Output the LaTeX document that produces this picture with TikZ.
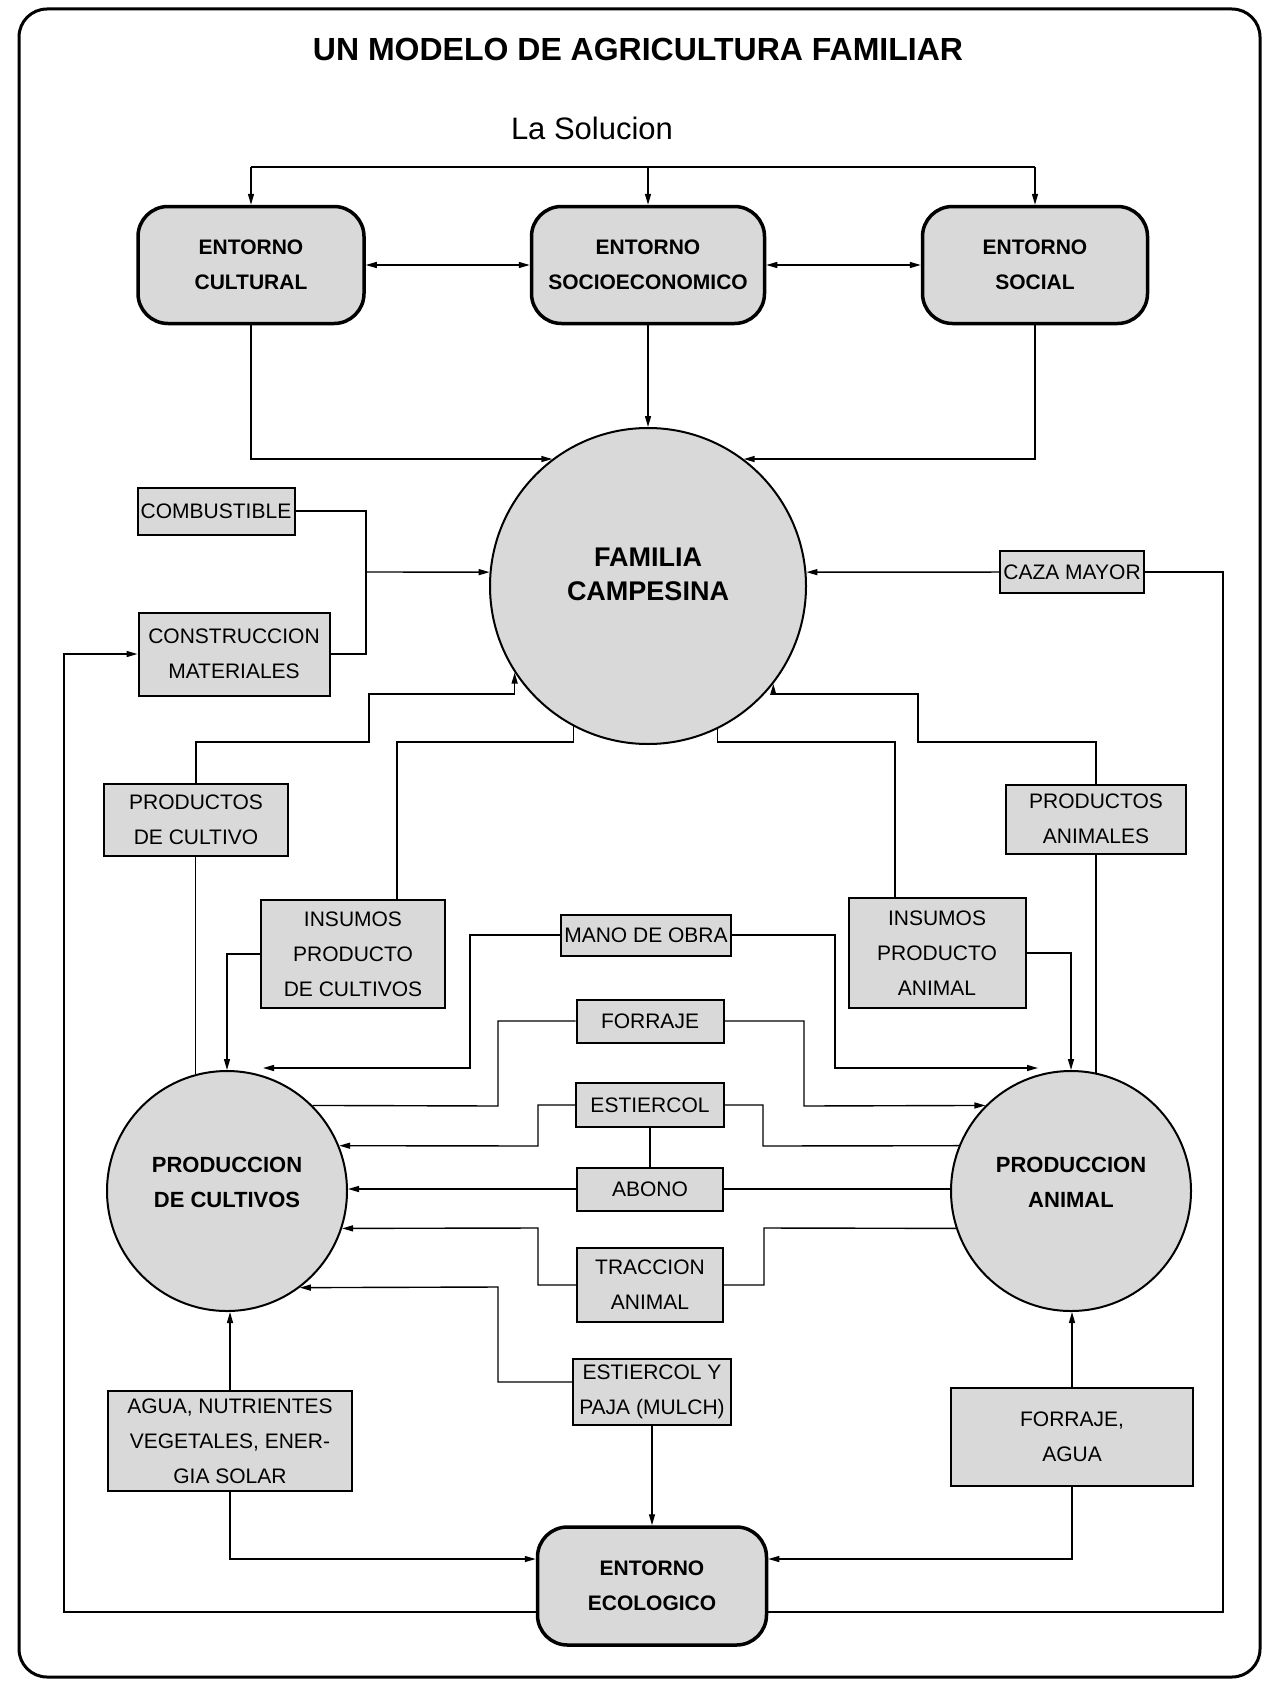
\documentclass[tikz,border=0pt]{standalone}
\usepackage{fontspec}
\setmainfont{Liberation Sans}
\definecolor{mygris}{rgb}{0.85,0.85,0.85}
\newcommand{\cajafont}{\fontsize{21pt}{35pt}\selectfont}
\newcommand{\entfont}{\fontsize{21pt}{35pt}\selectfont\bfseries}
\newcommand{\prodfont}{\fontsize{22pt}{35pt}\selectfont\bfseries}
\newcommand{\famfont}{\fontsize{27pt}{34pt}\selectfont\bfseries}
\newcommand{\titfont}{\fontsize{32pt}{36pt}\selectfont\bfseries}
\newcommand{\solfont}{\fontsize{31pt}{36pt}\selectfont}
\usetikzlibrary{arrows.meta}

\begin{document}
\begin{tikzpicture}[x=1pt,y=-1pt,line width=1.4pt,
        >={Triangle[length=11pt,width=6pt]},
        every node/.style={font=\cajafont},
        entorno/.style={draw,fill=mygris,line width=3.5pt,rounded corners=30pt,
            minimum height=117pt,align=center,font=\entfont},
        caja/.style={draw,fill=mygris,line width=2pt,align=center,inner sep=1pt},
        prod/.style={draw,circle,fill=mygris,line width=2pt,minimum size=240pt}
        ]
        \fill[white] (0,0) rectangle (1271,1686);
        \useasboundingbox (0,0) rectangle (1271,1686);
        \draw[line width=3pt,rounded corners=28pt] (19,9) rectangle (1260,1677);

        % the titles
        \node[font=\titfont,anchor=base] (titulo) at (638,61) {UN MODELO DE AGRICULTURA FAMILIAR};
        \node[font=\solfont,anchor=base] (solucion) at (592,139) {La Solucion};

        % the entornos
        \node[entorno,minimum width=226pt] (cultural) at (251,265) {ENTORNO\\CULTURAL};
        \node[entorno,minimum width=233pt] (socio) at (648,265) {ENTORNO\\SOCIOECONOMICO};
        \node[entorno,minimum width=225pt] (social) at (1035,265) {ENTORNO\\SOCIAL};
        \node[entorno,minimum width=229pt,minimum height=118pt] (ecologico) at (652,1586) {ENTORNO\\ECOLOGICO};

        % the circles
        \node[prod,minimum size=316pt,
            label={[font=\famfont,align=center,yshift=12pt]center:FAMILIA\\CAMPESINA}] (familia) at (648,586) {};
        \node[prod,label={[font=\prodfont,align=center,yshift=9pt]center:PRODUCCION\\DE CULTIVOS}] (cultivos) at (227,1191) {};
        \node[prod,label={[font=\prodfont,align=center,yshift=9pt]center:PRODUCCION\\ANIMAL}] (animal) at (1071,1191) {};

        % the boxes
        \node[caja,minimum width=157pt,minimum height=47pt] (combus) at (216,511) {COMBUSTIBLE};
        \node[caja,minimum width=191pt,minimum height=83pt] (constr) at (234,654) {CONSTRUCCION\\MATERIALES};
        \node[caja,minimum width=144pt,minimum height=42pt] (caza) at (1072,572) {CAZA MAYOR};
        \node[caja,minimum width=184pt,minimum height=72pt] (prodcult) at (196,820) {PRODUCTOS\\DE CULTIVO};
        \node[caja,minimum width=180pt,minimum height=69pt] (prodanim) at (1096,819) {PRODUCTOS\\ANIMALES};
        \node[caja,minimum width=184pt,minimum height=108pt] (insumcult) at (353,954) {INSUMOS\\PRODUCTO\\DE CULTIVOS};
        \node[caja,minimum width=177pt,minimum height=110pt] (insumanim) at (937,953) {INSUMOS\\PRODUCTO\\ANIMAL};
        \node[caja,minimum width=170pt,minimum height=41pt] (mano) at (646,935) {MANO DE OBRA};
        \node[caja,minimum width=147pt,minimum height=43pt] (forraje) at (650,1021) {FORRAJE};
        \node[caja,minimum width=148pt,minimum height=44pt] (estiercol) at (650,1105) {ESTIERCOL};
        \node[caja,minimum width=146pt,minimum height=43pt] (abono) at (650,1189) {ABONO};
        \node[caja,minimum width=146pt,minimum height=74pt] (traccion) at (650,1285) {TRACCION\\ANIMAL};
        \node[caja,minimum width=158pt,minimum height=66pt] (mulch) at (652,1392) {ESTIERCOL Y\\PAJA (MULCH)};
        \node[caja,minimum width=244pt,minimum height=100pt] (agua) at (230,1441) {AGUA, NUTRIENTES\\VEGETALES, ENER-\\GIA SOLAR};
        \node[caja,minimum width=242pt,minimum height=98pt] (fagua) at (1072,1437) {FORRAJE,\\AGUA};

        % the free ends
        \coordinate (sol-l) at (251,167);
        \coordinate (sol-c) at (648,167);
        \coordinate (sol-r) at (1035,167);
        \coordinate (jmat) at (366,572);
        \coordinate (mano-izq) at (263,1068);
        \coordinate (mano-der) at (1038,1068);

        % the edges on top
        \draw (sol-l) -- (sol-r);
        \foreach \c/\n in {sol-l/cultural,sol-c/socio,sol-r/social}
            \draw[->] (\c) -- (\n);
        \draw[<->] (cultural) -- (socio);
        \draw[<->] (socio) -- (social);
        \draw[->] (cultural) |- (familia.127);
        \draw[->] (social) |- (familia.53);
        \draw[->] (socio) -- (familia);

        % the edges round the familia
        \draw (combus) -| (jmat) |- (constr);
        \draw[->] (jmat) -- (familia.175);
        \draw[->] (caza) -- (familia.5);
        \draw[->] (prodcult) |- (369,742) -- (369,694) -| (familia.213);
        \draw[->] (prodanim) |- (918,742) -- (918,694) -| (familia.322);
        \draw (familia.242) |- (397,742) -- ([xshift=44pt]insumcult.north);
        \draw (familia.296) |- (895,742) -- ([xshift=-42pt]insumanim.north);
        \draw[->] (insumcult) -| (cultivos.north);
        \draw[->] (insumanim) -| (animal.north);
        \draw (cultivos.105) -- (cultivos.105 |- prodcult.south);
        \draw (animal.78) -- (animal.78 |- prodanim.south);

        % the edges between the productions
        \draw[->] (mano) -| (470,1068) -- (mano-izq);
        \draw[->] (mano) -| (835,1068) -- (mano-der);
        \draw (forraje) -| (498,1106) -- (cultivos.45);
        \draw[->] (forraje) -| (804,1106) -- (animal.135);
        \draw[->] (estiercol) -| (538,1146) -- (cultivos.22);
        \draw (estiercol) -| (763,1146) -- (animal.158);
        \draw (estiercol) -- (abono);
        \draw[->] (abono) -- (abono -| cultivos.east);
        \draw (abono) -- (abono -| animal.west);
        \draw[->] (traccion) -| (538,1228) -- (cultivos.342);
        \draw (traccion) -| (764,1228) -- (animal.198);
        \draw[->] ([yshift=10pt]mulch.west) -| (498,1287) -- (cultivos.307);
        \draw[->] (mulch) -- (ecologico);

        % the edges to the entorno ecologico
        \draw[->] (agua) -- (agua |- cultivos.south);
        \draw[->] (fagua) -- (fagua |- animal.south);
        \draw[->] (agua) |- ([yshift=27pt]ecologico.west);
        \draw[->] (fagua) |- ([yshift=27pt]ecologico.east);
        \draw[->] ([yshift=-26pt]ecologico.west) -| (64,654) -- (constr);
        \draw ([yshift=-26pt]ecologico.east) -| (1223,572) -- (caza);
\end{tikzpicture}
\end{document}
